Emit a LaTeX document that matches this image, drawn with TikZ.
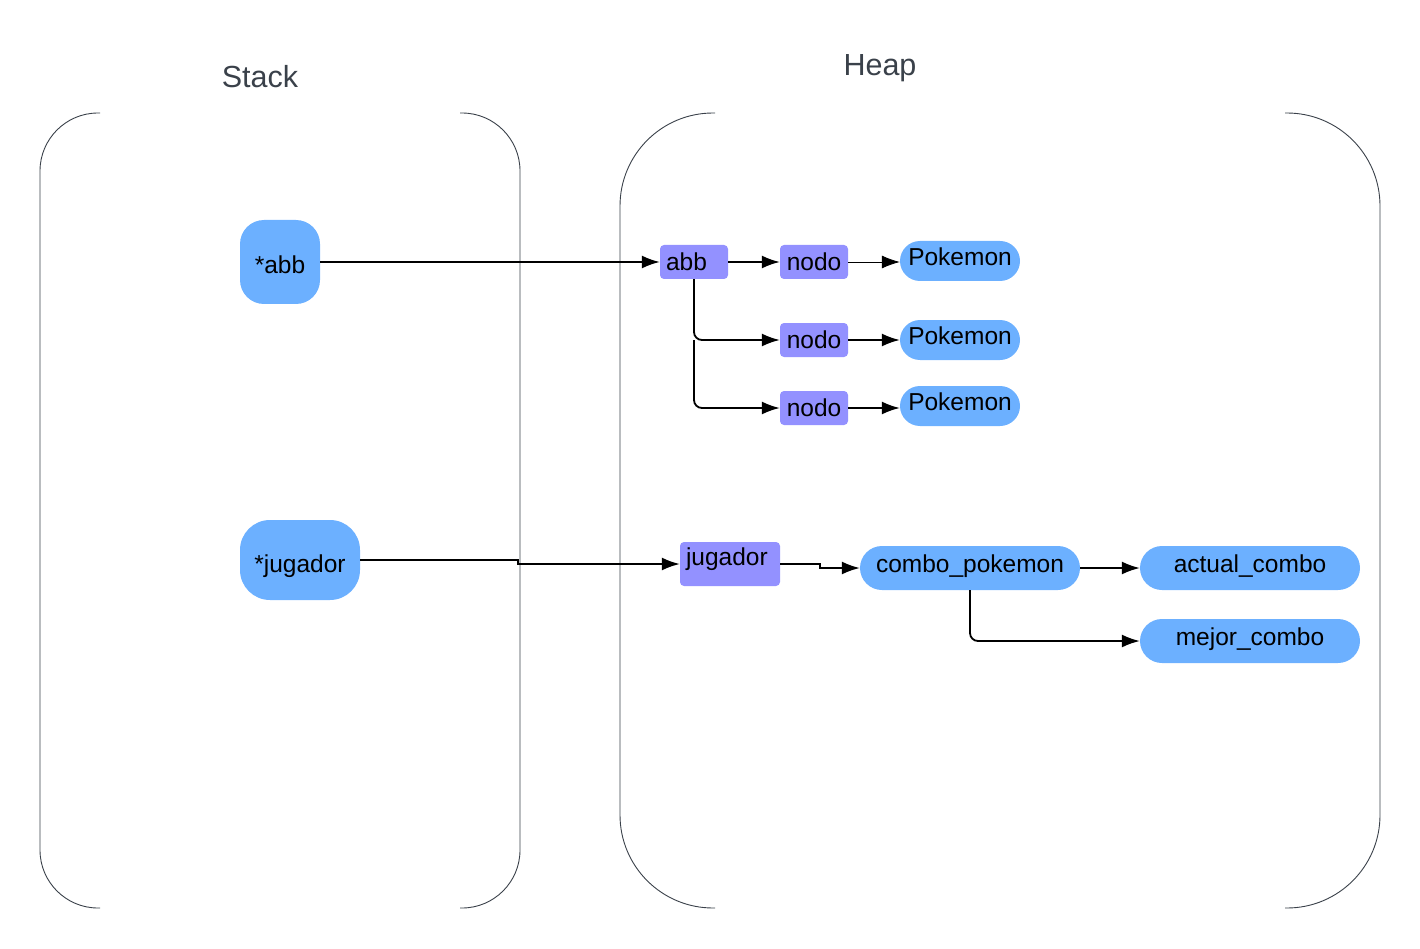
\documentclass[tikz,border=0pt]{standalone}
\usepackage{fontspec}
\setmainfont{Liberation Sans}
\usetikzlibrary{shapes}
\usetikzlibrary{arrows.meta}
\definecolor{ptrblue}{RGB}{108,176,255}
\definecolor{structpurple}{RGB}{147,145,255}
\definecolor{bracketgray}{RGB}{58,65,74}
\tikzstyle{line} = [draw, -{Latex[length=18pt,width=13pt]}, line width=1.8pt]
\tikzstyle{bracket} = [draw=bracketgray, line width=0.9pt]
\tikzstyle{title} = [text=bracketgray, font=\fontsize{30.5}{34}\selectfont]
\tikzstyle{pointer} = [fill=ptrblue, rounded corners=24pt, font=\fontsize{24.5}{28}\selectfont, text height=24pt, text depth=0pt]
\tikzstyle{field} = [fill=structpurple, rounded corners=4pt, inner xsep=6pt, font=\fontsize{24.5}{28}\selectfont]
\tikzstyle{pill} = [fill=ptrblue, rounded corners=20pt, font=\fontsize{24.5}{28}\selectfont, minimum width=120pt, minimum height=40pt, text depth=8pt]

\begin{document}
\begin{tikzpicture}[x=1pt, y=-1pt]
\useasboundingbox (0,0) rectangle (1420,949);
% stack and heap brackets
\draw[bracket, rounded corners=58pt] (100,113) -- (40,113) -- (40,908) -- (100,908);
\draw[bracket, rounded corners=58pt] (460,113) -- (520,113) -- (520,908) -- (460,908);
\draw[bracket, rounded corners=93pt] (715,113) -- (620,113) -- (620,908) -- (715,908);
\draw[bracket, rounded corners=93pt] (1285,113) -- (1380,113) -- (1380,908) -- (1285,908);
\node[title] (stack) at (260,77) {Stack};
\node[title] (heap) at (880,68) {Heap};
% stack
\node[pointer, minimum width=80pt, minimum height=84pt] (pabb) at (280,262) {*abb};
\node[pointer, rounded corners=30pt, minimum width=120pt, minimum height=80pt] (pjugador) at (300,560) {*jugador};
% heap: abb
\node[field, text width=56pt, align=left, minimum height=34pt] (abb) at (694,262) {abb};
\node[field, minimum width=68pt, minimum height=34pt] (nodo1) at (814,262) {nodo};
\node[field, minimum width=68pt, minimum height=34pt] (nodo2) at (814,340) {nodo};
\node[field, minimum width=68pt, minimum height=34pt] (nodo3) at (814,408) {nodo};
\node[pill] (poke1) at (960,261) {Pokemon};
\node[pill] (poke2) at (960,340) {Pokemon};
\node[pill] (poke3) at (960,406) {Pokemon};
% heap: jugador
\node[field, text width=88pt, align=left, minimum height=44pt, text depth=15pt] (jugador) at (730,564) {jugador};
\node[pill, rounded corners=22pt, minimum width=220pt, minimum height=44pt] (combo) at (970,568) {combo\_pokemon};
\node[pill, rounded corners=22pt, minimum width=220pt, minimum height=44pt] (actual) at (1250,568) {actual\_combo};
\node[pill, rounded corners=22pt, minimum width=220pt, minimum height=44pt] (mejor) at (1250,641) {mejor\_combo};
% pointers
\draw[line] (pabb.east) -- (abb.west);
\draw[line] (abb.east) -- (nodo1.west);
\draw[line, line width=0.8pt] (nodo1.east) -- (poke1.west |- nodo1.east);
\draw[line, rounded corners=8pt] (abb.south) |- (nodo2.west);
\draw[line, rounded corners=8pt] (abb.south |- nodo2.west) |- (nodo3.west);
\draw[line] (nodo2.east) -- (poke2.west);
\draw[line] (nodo3.east) -- (poke3.west |- nodo3.east);
\draw[line] (pjugador.east) -- ++(158,0) |- (jugador.west);
\draw[line] (jugador.east) -- ++(40,0) |- (combo.west);
\draw[line] (combo.east) -- (actual.west);
\draw[line, rounded corners=8pt] (combo.south) |- (mejor.west);
\end{tikzpicture}
\end{document}
